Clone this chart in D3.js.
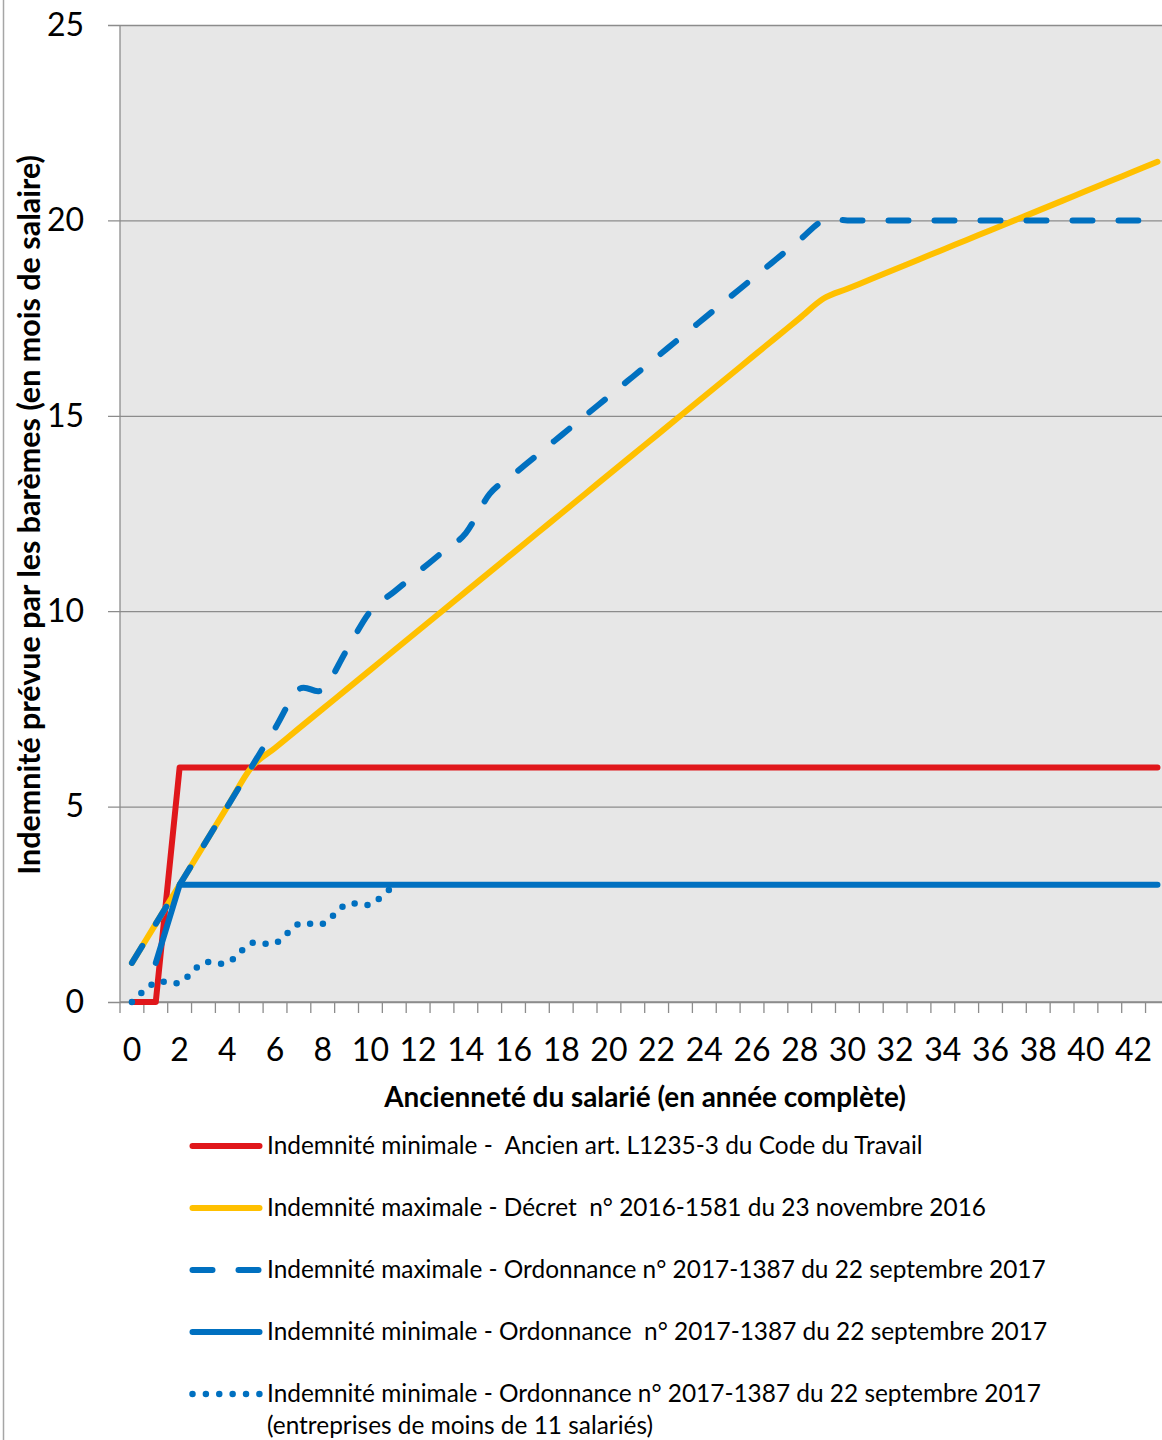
<!DOCTYPE html>
<html><head><meta charset="utf-8">
<script src="https://cdn.jsdelivr.net/npm/d3@7"></script>
<style>
html,body{margin:0;padding:0;background:#fff;}
svg{display:block;}
text{font-family:Lato,"Open Sans",sans-serif;white-space:pre;}
</style></head>
<body>
<svg id="chart" width="1162" height="1440"></svg>
<script>
// ---- data ----
const years = [0,1,2,3,4,5,6,7,8,9,10,11,12,13,14,15,16,17,18,19,20,21,22,23,24,25,26,27,28,29,30,31,32,33,34,35,36,37,38,39,40,41,42,43];
const minAncien = [0,0,6,6,6,6,6,6,6,6,6,6,6,6,6,6,6,6,6,6,6,6,6,6,6,6,6,6,6,6,6,6,6,6,6,6,6,6,6,6,6,6,6,6];
const maxDecret2016 = [1,2,3,4,5,6,6.5,7,7.5,8,8.5,9,9.5,10,10.5,11,11.5,12,12.5,13,13.5,14,14.5,15,15.5,16,16.5,17,17.5,18,18.25,18.5,18.75,19,19.25,19.5,19.75,20,20.25,20.5,20.75,21,21.25,21.5];
const maxOrdonnance2017 = [1,2,3,4,5,6,7,8,8,9,10,10.5,11,11.5,12,13,13.5,14,14.5,15,15.5,16,16.5,17,17.5,18,18.5,19,19.5,20,20,20,20,20,20,20,20,20,20,20,20,20,20,20];
const minOrdonnance2017 = [null,1,3,3,3,3,3,3,3,3,3,3,3,3,3,3,3,3,3,3,3,3,3,3,3,3,3,3,3,3,3,3,3,3,3,3,3,3,3,3,3,3,3,3];
const minOrdonnance2017Small = [0,0.5,0.5,1,1,1.5,1.5,2,2,2.5,2.5,3];
const yTicks = [0,5,10,15,20,25];
const xTickLabels = [0,2,4,6,8,10,12,14,16,18,20,22,24,26,28,30,32,34,36,38,40,42];
const seriesNames = [
  "Indemnité minimale -  Ancien art. L1235-3 du Code du Travail",
  "Indemnité maximale - Décret  n° 2016-1581 du 23 novembre 2016",
  "Indemnité maximale - Ordonnance n° 2017-1387 du 22 septembre 2017",
  "Indemnité minimale - Ordonnance  n° 2017-1387 du 22 septembre 2017",
  "Indemnité minimale - Ordonnance n° 2017-1387 du 22 septembre 2017"
];
const legendExtra = "(entreprises de moins de 11 salariés)";
const yTitle = "Indemnité prévue par les barèmes (en mois de salaire)";
const xTitle = "Ancienneté du salarié (en année complète)";

// ---- layout ----
const svg = d3.select("#chart");
const L = 120, T = 25, B = 1002, bw = 23.85;
const R = L + years.length * bw;
const x = d3.scaleBand().domain(years).range([L, R]).paddingInner(0).paddingOuter(0);
const cx = d => x(d) + x.bandwidth() / 2;
const y = d3.scaleLinear().domain([0, 25]).range([B, T]);
const gridCol = "#8c8c8c";
const RED = "#e0171b", GOLD = "#ffc000", BLUE = "#0070c0";
const LW = 6;

// chart border (left)
svg.append("line").attr("x1", 3.5).attr("x2", 3.5).attr("y1", 0).attr("y2", 1440)
  .attr("stroke", "#a6a6a6").attr("stroke-width", 1.5);

// plot background
svg.append("rect").attr("x", L).attr("y", T).attr("width", R - L).attr("height", B - T).attr("fill", "#e7e7e7");

// y axis with gridlines
const yAxis = d3.axisLeft(y).tickValues(yTicks).tickSize(-(R - L)).tickPadding(36).tickFormat(d3.format("d"));
const gy = svg.append("g").attr("transform", `translate(${L},0)`).call(yAxis);
gy.select(".domain").remove();
gy.selectAll(".tick line").attr("stroke", gridCol).attr("stroke-width", 1.3).attr("x1", -12);
gy.selectAll(".tick text").attr("font-size", 32).attr("fill", "#000").attr("font-family", "Lato");
svg.append("line").attr("x1", L).attr("x2", L).attr("y1", T).attr("y2", B).attr("stroke", gridCol).attr("stroke-width", 1.3);

// x axis
const xAxis = d3.axisBottom(x).tickSize(0).tickPadding(36)
  .tickFormat(d => xTickLabels.includes(d) ? String(d) : "");
const gx = svg.append("g").attr("transform", `translate(0,${B})`).call(xAxis);
gx.select(".domain").remove();
gx.selectAll(".tick line").remove();
gx.selectAll(".tick text").attr("font-size", 32).attr("fill", "#000").attr("font-family", "Lato");
svg.append("line").attr("x1", L).attr("x2", R).attr("y1", B).attr("y2", B).attr("stroke", gridCol).attr("stroke-width", 1.3);
// boundary tick marks
svg.append("g").selectAll("line").data(years.concat([years.length])).join("line")
  .attr("x1", (d, i) => L + i * x.bandwidth()).attr("x2", (d, i) => L + i * x.bandwidth())
  .attr("y1", B).attr("y2", B + 11).attr("stroke", gridCol).attr("stroke-width", 1.3);

// lines
const linear = d3.line().defined(d => d[1] != null).x(d => cx(d[0])).y(d => y(d[1]));
const smooth = d3.line().defined(d => d[1] != null).x(d => cx(d[0])).y(d => y(d[1])).curve(d3.curveCatmullRom.alpha(0));
const pairs = arr => arr.map((v, i) => [years[i], v]);

const plot = svg.append("g").attr("fill", "none").attr("stroke-linecap", "round").attr("stroke-linejoin", "round");
plot.append("path").attr("d", linear(pairs(minAncien))).attr("stroke", RED).attr("stroke-width", LW);
plot.append("path").attr("d", smooth(pairs(maxDecret2016))).attr("stroke", GOLD).attr("stroke-width", LW);
plot.append("path").attr("d", smooth(pairs(maxOrdonnance2017))).attr("stroke", BLUE).attr("stroke-width", LW).attr("stroke-dasharray", "20 26");
plot.append("path").attr("d", linear(pairs(minOrdonnance2017))).attr("stroke", BLUE).attr("stroke-width", LW);
plot.append("path").attr("d", smooth(pairs(minOrdonnance2017Small))).attr("stroke", BLUE).attr("stroke-width", 6.5).attr("stroke-dasharray", "0 13");

// helper to fit text to width
function fit(sel, target) {
  const w = sel.node().getComputedTextLength();
  const fs = parseFloat(sel.attr("font-size"));
  sel.attr("font-size", fs * target / w);
}

// axis titles
const yt = svg.append("text").attr("transform", `translate(40,515) rotate(-90)`)
  .attr("text-anchor", "middle").attr("font-weight", "bold").attr("font-size", 25).attr("fill", "#000").text(yTitle);
fit(yt, 720);
const xt = svg.append("text").attr("x", 645).attr("y", 1107)
  .attr("text-anchor", "middle").attr("font-weight", "bold").attr("font-size", 25).attr("fill", "#000").text(xTitle);
fit(xt, 522);

// legend
const legY = [1146, 1208, 1270, 1332, 1394];
const legStyles = [
  {c: RED, dash: null, w: LW},
  {c: GOLD, dash: null, w: LW},
  {c: BLUE, dash: "20 26", w: LW},
  {c: BLUE, dash: null, w: LW},
  {c: BLUE, dash: "0 13.38", w: 6.5}
];
const leg = svg.append("g");
const legTexts = [];
seriesNames.forEach((name, i) => {
  const s = legStyles[i];
  leg.append("line").attr("x1", 192.5).attr("x2", 259.5).attr("y1", legY[i]).attr("y2", legY[i])
    .attr("stroke", s.c).attr("stroke-width", s.w).attr("stroke-linecap", "round")
    .attr("stroke-dasharray", s.dash);
  legTexts.push(leg.append("text").attr("x", 267).attr("y", legY[i] + 8).attr("font-size", 22).attr("fill", "#000").text(name));
});
legTexts.push(leg.append("text").attr("x", 267).attr("y", 1426 + 8).attr("font-size", 22).attr("fill", "#000").text(legendExtra));
// size legend font from the longest line
{
  const w = legTexts[2].node().getComputedTextLength();
  const fs = 22 * (1046 - 267) / w;
  legTexts.forEach(t => t.attr("font-size", fs));
}
</script>
</body></html>
